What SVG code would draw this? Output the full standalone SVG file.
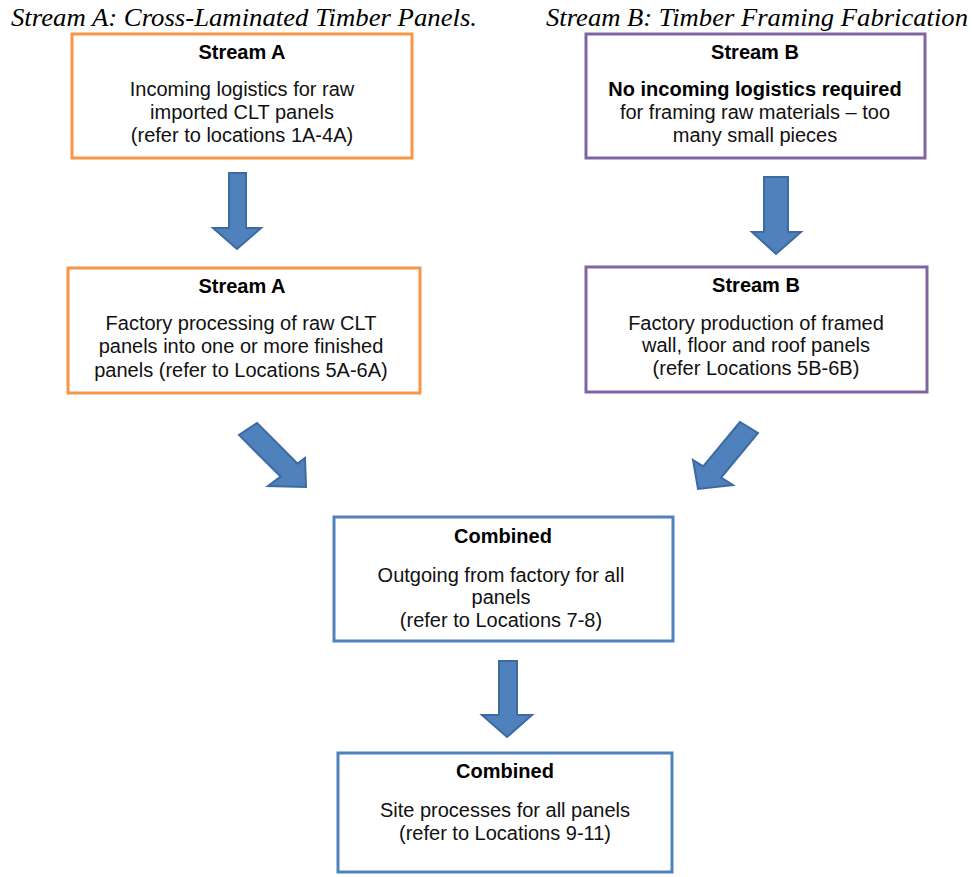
<svg xmlns="http://www.w3.org/2000/svg" width="972" height="877" viewBox="0 0 972 877">
<style>
.title{font-family:"Liberation Serif","Times New Roman",serif;font-style:italic;font-size:26px;fill:#000}
.box{fill:#fff;stroke-width:3}
.a{stroke:#F79646}
.b{stroke:#8064A2}
.c{stroke:#4F81BD}
.h{font-family:"Liberation Sans",Arial,sans-serif;font-weight:bold;font-size:20px;fill:#000;text-anchor:middle}
.t{font-family:"Liberation Sans",Arial,sans-serif;font-size:20px;fill:#111;text-anchor:middle}
.arrow{fill:#4F81BD;stroke:#3D6AA0;stroke-width:2;stroke-linejoin:miter}
</style>
<rect width="972" height="877" fill="#fff"/>
<text class="title" x="11" y="26" textLength="466" lengthAdjust="spacingAndGlyphs">Stream A: Cross-Laminated Timber Panels.</text>
<text class="title" x="546" y="26" textLength="422" lengthAdjust="spacingAndGlyphs">Stream B: Timber Framing Fabrication</text>

<g id="nodeA1">
<rect class="box a" x="72" y="34" width="340" height="124"/>
<text class="h" x="242" y="59">Stream A</text>
<text class="t" x="242" y="96">Incoming logistics for raw</text>
<text class="t" x="242" y="119">imported CLT panels</text>
<text class="t" x="242" y="142">(refer to locations 1A-4A)</text>
</g>
<g id="nodeB1">
<rect class="box b" x="586" y="34" width="339" height="124"/>
<text class="h" x="755" y="59">Stream B</text>
<text class="h" x="755" y="96">No incoming logistics required</text>
<text class="t" x="755" y="119">for framing raw materials – too</text>
<text class="t" x="755" y="142">many small pieces</text>
</g>
<g id="nodeA2">
<rect class="box a" x="68" y="268" width="352" height="125"/>
<text class="h" x="242" y="293">Stream A</text>
<text class="t" x="241" y="330">Factory processing of raw CLT</text>
<text class="t" x="241" y="353">panels into one or more finished</text>
<text class="t" x="241" y="377">panels (refer to Locations 5A-6A)</text>
</g>
<g id="nodeB2">
<rect class="box b" x="586" y="267" width="341" height="125"/>
<text class="h" x="756" y="292">Stream B</text>
<text class="t" x="756" y="330">Factory production of framed</text>
<text class="t" x="756" y="352">wall, floor and roof panels</text>
<text class="t" x="756" y="375">(refer Locations 5B-6B)</text>
</g>
<g id="nodeC1">
<rect class="box c" x="334" y="517" width="339" height="124"/>
<text class="h" x="503" y="543">Combined</text>
<text class="t" x="501" y="582">Outgoing from factory for all</text>
<text class="t" x="501" y="604">panels</text>
<text class="t" x="501" y="627">(refer to Locations 7-8)</text>
</g>
<g id="nodeC2">
<rect class="box c" x="338" y="753" width="334" height="119"/>
<text class="h" x="505" y="778">Combined</text>
<text class="t" x="505" y="817">Site processes for all panels</text>
<text class="t" x="505" y="840">(refer to Locations 9-11)</text>
</g>

<g id="connectors">
<polygon class="arrow" points="229,173 246,173 246,228 261,228 237,249 213,228 229,228"/>
<polygon class="arrow" points="764,177 788,177 788,232 801,232 776,254 752,232 764,232"/>
<polygon class="arrow" points="257,423 297.6,463.6 305,458 306,487 268,486 280.6,476.6 239,435"/>
<polygon class="arrow" points="740,422 703.2,466.4 693,460 698,489 733,485 721.1,477.5 758,433"/>
<polygon class="arrow" points="499,661 517,661 517,715 532,715 507,737 482,715 499,715"/>
</g>
</svg>
